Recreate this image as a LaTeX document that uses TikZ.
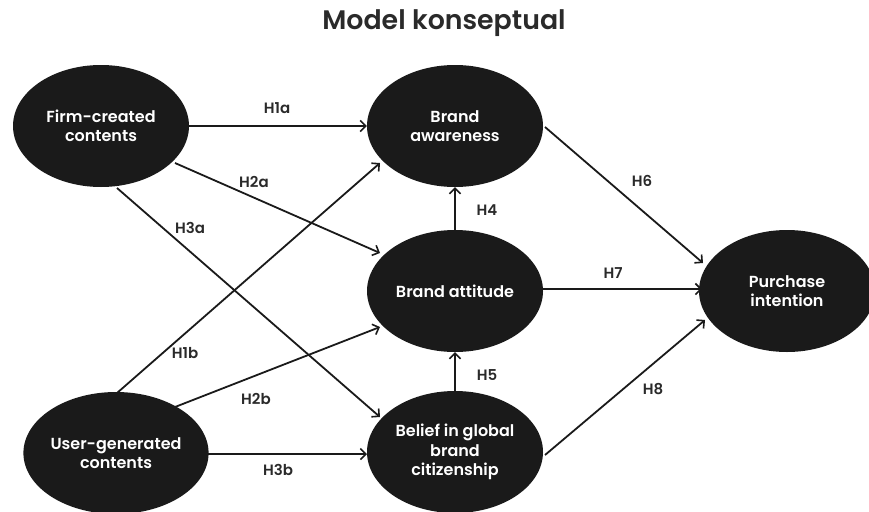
\documentclass[tikz,border=0pt]{standalone}
\usepackage{fontspec}
\setmainfont{Poppins}
\newfontfamily\psemi{Poppins SemiBold}
\usetikzlibrary{shapes.geometric,arrows.meta,calc}
\definecolor{ellfill}{HTML}{1A1A1A}
\definecolor{labcol}{HTML}{2A2A2A}
\tikzset{
  construct/.style={ellipse, fill=ellfill, draw=none, minimum width=176pt, minimum height=122pt, inner sep=0pt, text=white, align=center, font=\psemi\fontsize{16}{19.5}\selectfont},
  path/.style={line width=1.8pt, draw=ellfill, -{Straight Barb[length=5.5pt,width=11pt,line width=1.6pt]}},
  hlabel/.style={text=labcol, font=\psemi\fontsize{15}{17}\selectfont, inner sep=0pt}
}
\begin{document}
\begin{tikzpicture}[x=1pt,y=-1pt]
\useasboundingbox (0,0) rectangle (869,511);
\node[font=\psemi\fontsize{26.8}{32}\selectfont, text=labcol] (title) at (444,23) {Model konseptual};
\node[construct] (F) at (101,126) {Firm-created\\contents};
\node[construct] (A) at (455,126) {Brand\\awareness};
\node[construct] (T) at (455,291) {Brand attitude};
\node[construct] (B) at (455,452) {Belief in global\\brand\\citizenship};
\node[construct] (U) at (116,453) {User-generated\\contents};
\node[construct] (P) at (787,291) {Purchase\\intention};
% paths
\draw[path] (F.east) -- (A.west);
\draw[path] ($(F)+(74,37)$) -- ($(T)+(-75,-38)$);
\draw[path] ($(F)+(16,62)$) -- ($(B)+(-75,-35)$);
\draw[path] ($(U)+(1,-60)$) -- ($(A)+(-75,37)$);
\draw[path] ($(U)+(59,-46)$) -- ($(T)+(-75,36)$);
\draw[path] ($(U)+(89,1)$) -- ($(B)+(-88,2)$);
\draw[path] (T.north) -- (A.south);
\draw[path] (B.north) -- (T.south);
\draw[path] ($(A)+(90,1)$) -- ($(P)+(-84,-28)$);
\draw[path] ($(T)+(88,-2)$) -- ($(P)+(-85,-2)$);
\draw[path] ($(B)+(90,3)$) -- ($(P)+(-82,29)$);
% labels
\node[hlabel] (h1a) at (277,108) {H1a};
\node[hlabel] (h2a) at (254,182) {H2a};
\node[hlabel] (h3a) at (190,228) {H3a};
\node[hlabel] (h1b) at (185,353) {H1b};
\node[hlabel] (h2b) at (256,399) {H2b};
\node[hlabel] (h3b) at (278,470) {H3b};
\node[hlabel] (h4) at (487,210) {H4};
\node[hlabel] (h5) at (487,375) {H5};
\node[hlabel] (h6) at (642,181) {H6};
\node[hlabel] (h7) at (613,273) {H7};
\node[hlabel] (h8) at (653,389) {H8};
\end{tikzpicture}
\end{document}
